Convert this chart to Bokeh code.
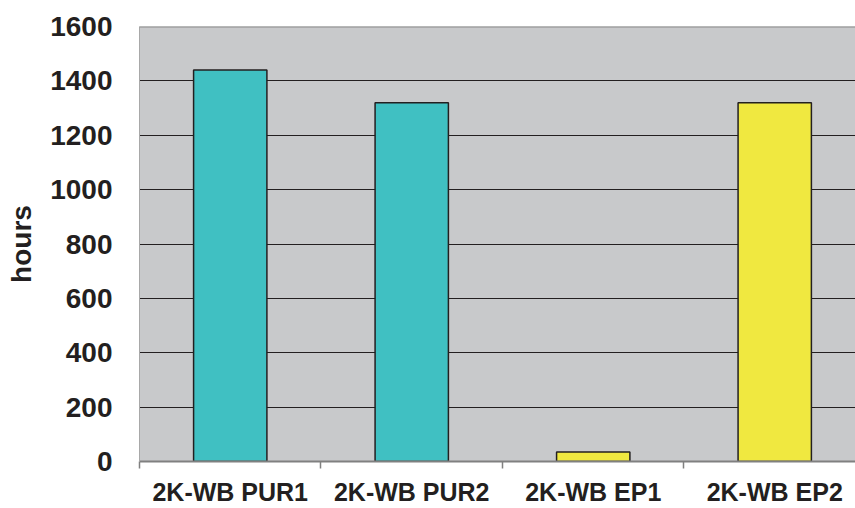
from bokeh.plotting import figure
from bokeh.models import Range1d, FixedTicker, ColumnDataSource, Span
from bokeh.embed import file_html
from bokeh.resources import INLINE

categories = ["2K-WB PUR1", "2K-WB PUR2", "2K-WB EP1", "2K-WB EP2"]
hours = [1440, 1320, 35, 1320]
bar_colors = ["#40C0C2", "#40C0C2", "#F0E840", "#F0E840"]
y_ticks = [0, 200, 400, 600, 800, 1000, 1200, 1400, 1600]

positions = list(range(len(categories)))
source = ColumnDataSource(dict(x=positions, top=hours, color=bar_colors, cat=categories))

FONT = "Liberation Sans"
TXT = "#231F20"

p = figure(width=855, height=508, output_backend="svg", toolbar_location=None,
           x_range=Range1d(-0.5, 3.445), y_range=Range1d(0, 1600),
           min_border_left=139, min_border_right=0, min_border_top=26, min_border_bottom=46)

p.background_fill_color = "#C8C9CB"
p.border_fill_color = "white"
p.outline_line_color = None

p.vbar(x="x", top="top", width=0.404, bottom=0, fill_color="color",
       line_color=TXT, line_width=1.5, source=source)

p.add_layout(Span(location=y_ticks[-1], dimension="width", line_color="#8A8A8A", line_width=2))

# y axis
p.yaxis.ticker = FixedTicker(ticks=y_ticks)
p.yaxis.axis_label = "hours"
p.yaxis.axis_label_text_font = FONT
p.yaxis.axis_label_text_font_style = "bold"
p.yaxis.axis_label_text_font_size = "28px"
p.yaxis.axis_label_text_color = TXT
p.yaxis.axis_label_standoff = 10
p.yaxis.major_label_text_font = FONT
p.yaxis.major_label_text_font_style = "bold"
p.yaxis.major_label_text_font_size = "28px"
p.yaxis.major_label_text_color = TXT
p.yaxis.major_label_standoff = 21
p.yaxis.major_tick_line_color = None
p.yaxis.minor_tick_line_color = None
p.yaxis.axis_line_color = "#A8A8A8"
p.yaxis.axis_line_width = 1

# x axis
p.xaxis.ticker = FixedTicker(ticks=positions, minor_ticks=[i - 0.5 for i in positions])
p.xaxis.major_label_overrides = {i: c for i, c in zip(positions, categories)}
p.xaxis.major_label_text_font = FONT
p.xaxis.major_label_text_font_style = "bold"
p.xaxis.major_label_text_font_size = "25px"
p.xaxis.major_label_text_color = TXT
p.xaxis.major_label_standoff = 9
p.xaxis.major_tick_line_color = None
p.xaxis.minor_tick_line_color = "#808080"
p.xaxis.minor_tick_line_width = 1.5
p.xaxis.minor_tick_out = 7
p.xaxis.minor_tick_in = 0
p.xaxis.axis_line_color = "#808080"
p.xaxis.axis_line_width = 2

# grid
p.xgrid.grid_line_color = None
p.ygrid.ticker = FixedTicker(ticks=y_ticks[1:-1])
p.ygrid.grid_line_color = TXT
p.ygrid.grid_line_width = 1.2

open("out.html", "w").write(file_html(p, INLINE))
